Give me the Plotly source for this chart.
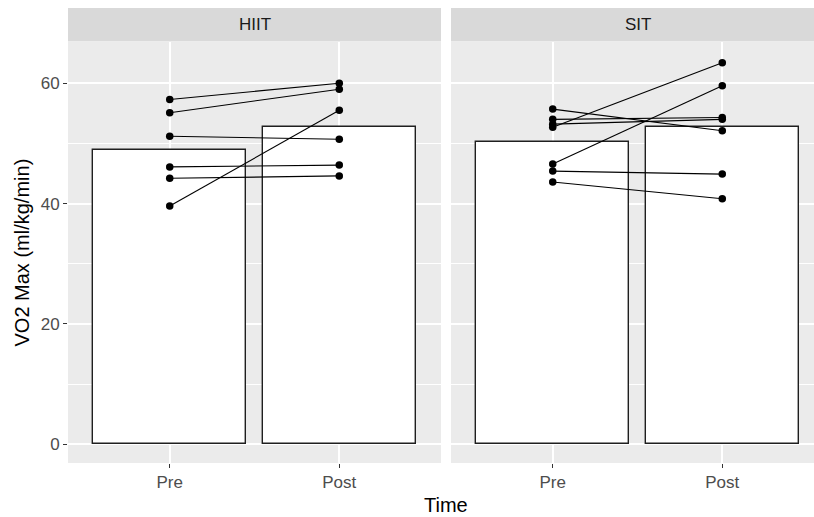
import numpy as np
import plotly.graph_objects as go

# ---- data ----
groups = ["HIIT", "SIT"]
time_labels = ["Pre", "Post"]

hiit_pre = [57.3, 55.1, 51.2, 46.1, 44.2, 39.6]
hiit_post = [60.0, 59.0, 50.7, 46.4, 44.6, 55.5]

sit_pre = [55.7, 54.0, 53.2, 52.7, 46.6, 45.4, 43.6]
sit_post = [52.1, 54.3, 54.0, 63.4, 59.6, 44.9, 40.8]

y_ticks = [0, 20, 40, 60]
y_minor = [10, 30, 50]

W, H = 814, 517
FONT = "Liberation Sans, Arial, sans-serif"

# pixel layout
panels_px = [(68, 441), (451, 814)]
px_per_unit = 373 / 2.2
top_px, bot_px = 42, 463
strip_top, strip_bot = 8, 41.5

fig = go.Figure()

data = {"HIIT": (hiit_pre, hiit_post), "SIT": (sit_pre, sit_post)}
xpos = [1, 2]

for i, g in enumerate(groups):
    pre, post = data[g]
    xa = "x" if i == 0 else "x2"
    ya = "y" if i == 0 else "y2"
    means = [float(np.mean(pre)), float(np.mean(post))]
    fig.add_trace(go.Bar(x=xpos, y=means, width=0.9, xaxis=xa, yaxis=ya,
                         marker=dict(color="white", line=dict(color="#1F1F1F", width=1.4)),
                         showlegend=False, hoverinfo="skip"))
    for a, b in zip(pre, post):
        fig.add_trace(go.Scatter(x=xpos, y=[a, b], mode="lines+markers", xaxis=xa, yaxis=ya,
                                 line=dict(color="black", width=1.1),
                                 marker=dict(color="black", size=7.5),
                                 showlegend=False, hoverinfo="skip"))

ydom = [1 - bot_px / H, 1 - top_px / H]
yrange = [-3.1, 66.85]

common_x = dict(tickmode="array", tickvals=xpos, ticktext=time_labels,
                showgrid=True, gridcolor="white", gridwidth=1.6, zeroline=False,
                ticks="outside", ticklen=4, tickcolor="#333333", tickwidth=1.1,
                tickfont=dict(family=FONT, size=17, color="#4D4D4D"), showline=False)

fig.update_layout(
    width=W, height=H, margin=dict(l=0, r=0, t=0, b=0),
    paper_bgcolor="white", plot_bgcolor="#EBEBEB",
    bargap=0, showlegend=False,
    xaxis=dict(domain=[panels_px[0][0] / W, panels_px[0][1] / W], range=[0.4, 2.6], anchor="y", **common_x),
    xaxis2=dict(domain=[panels_px[1][0] / W, 1.0],
                range=[0.4, 0.4 + (panels_px[1][1] - panels_px[1][0]) / px_per_unit], anchor="y2", **common_x),
    yaxis=dict(domain=ydom, range=yrange, tickvals=y_ticks, showgrid=True, gridcolor="white", gridwidth=1.6,
               zeroline=False, ticks="outside", ticklen=4, tickcolor="#333333", tickwidth=1.1,
               tickfont=dict(family=FONT, size=17, color="#4D4D4D"),
               minor=dict(tickvals=y_minor, showgrid=True, gridcolor="white", gridwidth=0.8, ticks=""),
               anchor="x"),
    yaxis2=dict(domain=ydom, range=yrange, tickvals=y_ticks, showgrid=True, gridcolor="white", gridwidth=1.6,
                zeroline=False, showticklabels=False, ticks="",
                minor=dict(tickvals=y_minor, showgrid=True, gridcolor="white", gridwidth=0.8, ticks=""),
                anchor="x2"),
)

shapes = []
annotations = []
for i, g in enumerate(groups):
    x0 = panels_px[i][0] / W
    x1 = panels_px[i][1] / W
    shapes.append(dict(type="rect", xref="paper", yref="paper", x0=x0, x1=x1,
                       y0=1 - strip_bot / H, y1=1 - strip_top / H,
                       fillcolor="#D9D9D9", line=dict(width=0), layer="below"))
    # strip label centered on the full (uncropped) panel
    full_right = panels_px[i][0] + 2.2 * px_per_unit
    cx = (panels_px[i][0] + full_right) / 2 / W
    annotations.append(dict(text=g, xref="paper", yref="paper", x=cx, y=1 - (strip_top + strip_bot) / 2 / H,
                            showarrow=False, xanchor="center", yanchor="middle",
                            font=dict(family=FONT, size=17, color="#1A1A1A")))

annotations.append(dict(text="Time", xref="paper", yref="paper", x=446 / W, y=1 - 505 / H,
                        showarrow=False, xanchor="center", yanchor="middle",
                        font=dict(family=FONT, size=20, color="black")))
annotations.append(dict(text="VO2 Max (ml/kg/min)", xref="paper", yref="paper", x=22 / W,
                        y=1 - (top_px + bot_px) / 2 / H, textangle=-90,
                        showarrow=False, xanchor="center", yanchor="middle",
                        font=dict(family=FONT, size=20, color="black")))

fig.update_layout(shapes=shapes, annotations=annotations)

fig.write_html("out.html")
